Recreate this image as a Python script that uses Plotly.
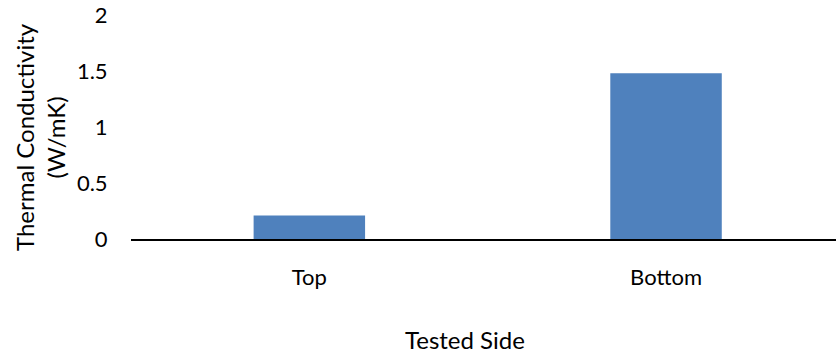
import plotly.graph_objects as go

categories = ["Top", "Bottom"]
values = [0.21, 1.48]
y_ticks = [0, 0.5, 1, 1.5, 2]
y_tick_labels = ["0", "0.5", "1", "1.5", "2"]

W, H = 836, 353
L, R, T, B = 131, 0, 15, 114

fig = go.Figure(go.Bar(
    x=categories, y=values, width=0.3125,
    marker=dict(color="#4F81BD", line=dict(width=0)),
))

font = dict(family="Lato, Open Sans, sans-serif", size=22, color="#000000")
title_font = dict(family="Lato, Open Sans, sans-serif", size=24, color="#000000")

fig.update_layout(
    width=W, height=H,
    margin=dict(l=L, r=R, t=T, b=B, pad=0),
    paper_bgcolor="white", plot_bgcolor="white",
    font=font, showlegend=False,
    xaxis=dict(
        range=[-0.5, 1.4765], showgrid=False, zeroline=False,
        showline=True, linecolor="black", linewidth=1.5,
        ticks="outside", ticklen=18, tickcolor="rgba(0,0,0,0)",
        tickfont=font,
    ),
    yaxis=dict(
        range=[0, 2], tickvals=y_ticks, ticktext=y_tick_labels,
        showgrid=False, zeroline=False, showline=False,
        ticks="outside", ticklen=18, tickcolor="rgba(0,0,0,0)",
        tickfont=font,
    ),
    annotations=[
        dict(
            text="Tested Side", xref="paper", yref="paper",
            x=(465 - L) / (W - L - R), y=-(339 - (H - B)) / (H - T - B),
            xanchor="center", yanchor="middle", showarrow=False, font=title_font,
        ),
        dict(
            text="Thermal Conductivity<br>(W/mK)", xref="paper", yref="paper",
            x=-(L - 40) / (W - L - R), y=(H - B - 137) / (H - T - B),
            xanchor="center", yanchor="middle", showarrow=False,
            textangle=-90, font=title_font,
        ),
    ],
)

fig.write_html("out.html")
